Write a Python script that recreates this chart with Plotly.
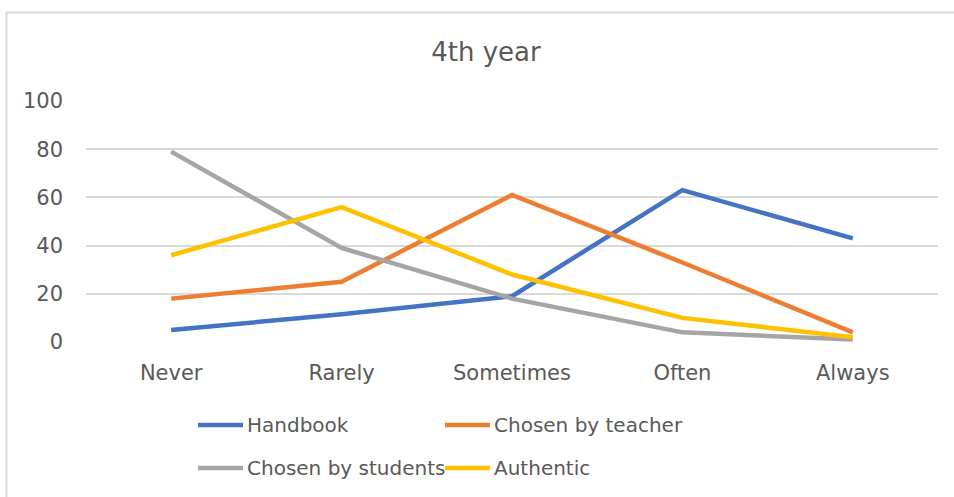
import plotly.graph_objects as go

# Survey responses, 4th year
categories = ["Never", "Rarely", "Sometimes", "Often", "Always"]
handbook = [5, 11.5, 19, 63, 43]
chosen_by_teacher = [18, 25, 61, 33, 4]
chosen_by_students = [79, 39, 18, 4, 1]
authentic = [36, 56, 28, 10, 2]
y_ticks = [0, 20, 40, 60, 80, 100]

series = [
    ("Handbook", handbook, "#4472C4"),
    ("Chosen by teacher", chosen_by_teacher, "#ED7D31"),
    ("Chosen by students", chosen_by_students, "#A5A5A5"),
    ("Authentic", authentic, "#FFC000"),
]

W, H = 954, 497
ML, MR, MT, MB = 86, 16, 101, 155
PW, PH = W - ML - MR, H - MT - MB
FONT = "DejaVu Sans"
TXT = "#595959"
GRID = "#D9D9D9"


def px(x):
    return (x - ML) / PW


def py(y):
    return (H - MB - y) / PH


fig = go.Figure()
for name, vals, color in series:
    fig.add_trace(go.Scatter(
        x=categories, y=vals, name=name, mode="lines",
        line=dict(color=color, width=4.5),
        showlegend=False,
    ))

shapes = []
annotations = []

# legend laid out in two rows of two entries
legend_pos = [(198, 425), (445, 425), (198, 468), (445, 468)]
for (name, _, color), (lx, ly) in zip(series, legend_pos):
    shapes.append(dict(
        type="line", xref="paper", yref="paper",
        x0=px(lx), x1=px(lx + 45), y0=py(ly), y1=py(ly),
        line=dict(color=color, width=4.5),
    ))
    annotations.append(dict(
        text=name, xref="paper", yref="paper",
        x=px(lx + 47), y=py(ly), xanchor="left", yanchor="middle",
        showarrow=False, font=dict(family=FONT, size=20, color=TXT),
    ))

# chart frame
shapes.append(dict(
    type="rect", xref="paper", yref="paper",
    x0=px(6.5), x1=px(990), y0=py(520), y1=py(12.5),
    line=dict(color=GRID, width=2), fillcolor="rgba(0,0,0,0)", layer="below",
))

fig.update_layout(
    width=W, height=H,
    margin=dict(l=ML, r=MR, t=MT, b=MB),
    paper_bgcolor="white", plot_bgcolor="white",
    title=dict(
        text="4th year", xref="container", yref="container",
        x=486 / W, y=1 - 52 / H, xanchor="center", yanchor="middle",
        font=dict(family=FONT, size=26, color=TXT),
    ),
    xaxis=dict(
        type="category", range=[-0.5, 4.5],
        showgrid=False, showline=False, zeroline=False,
        ticks="", ticklabelstandoff=16,
        tickfont=dict(family=FONT, size=21, color=TXT),
    ),
    yaxis=dict(
        range=[0, 100], tickvals=y_ticks,
        showgrid=True, gridcolor=GRID, gridwidth=1.5,
        zeroline=False, showline=False, ticks="",
        ticklabelstandoff=22,
        tickfont=dict(family=FONT, size=21, color=TXT),
    ),
    shapes=shapes,
    annotations=annotations,
)

fig.write_html("out.html")
